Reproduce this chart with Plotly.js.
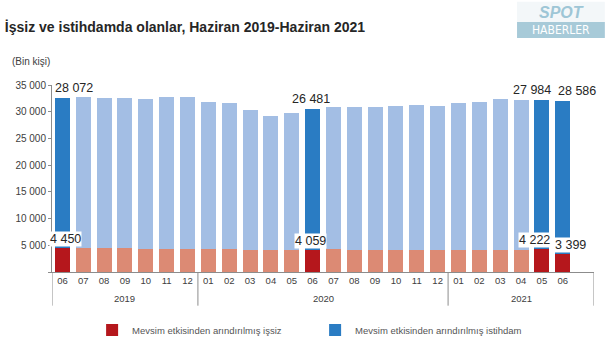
<!DOCTYPE html>
<html>
<head>
<meta charset="utf-8">
<script src="https://cdn.plot.ly/plotly-3.0.1.min.js"></script>
<style>html,body{margin:0;padding:0;background:#fff;}#chart{width:605px;height:363px;}</style>
</head>
<body>
<div id="chart"></div>
<script>
// ---- data ----
var years = ['2019','2019','2019','2019','2019','2019','2019',
  '2020','2020','2020','2020','2020','2020','2020','2020','2020','2020','2020','2020',
  '2021','2021','2021','2021','2021','2021'];
var months = ['06','07','08','09','10','11','12',
  '01','02','03','04','05','06','07','08','09','10','11','12',
  '01','02','03','04','05','06'];
// unemployed (thousand persons), seasonally adjusted
var unemployed = [4450, 4480, 4470, 4440, 4330, 4320, 4330,
  4250, 4220, 4200, 4180, 4170, 4059, 4350, 4200, 4180, 4170, 4180, 4170,
  4150, 4180, 4200, 4150, 4222, 3399];
// employed (thousand persons), seasonally adjusted
var employed = [28072, 28350, 28050, 28080, 28000, 28450, 28440,
  27650, 27490, 26140, 24970, 25540, 26481, 26440, 26715, 26670, 26870, 26985, 26870,
  27450, 27610, 28210, 27950, 27984, 28586];
// highlighted months (labelled in the chart)
var highlight = [0, 12, 23, 24];

// ---- derived ----
var cats = months.map(function (m, i) { return years[i] + '-' + m; });

// ---- styles ----
var FONT = 'Liberation Sans, Arial, sans-serif';
var cEmpDark = '#2A7CC3', cEmpLight = '#A3BEE4';
var cUnDark = '#B5171C', cUnLight = '#DC8A74';
function colors(dark, light) {
  return months.map(function (m, i) { return highlight.indexOf(i) >= 0 ? dark : light; });
}
function fmt(v) { return String(v).replace(/\B(?=(\d{3})+(?!\d))/g, ' '); }

var traces = [
  { type: 'bar', name: 'Mevsim etkisinden arındırılmış işsiz', x: cats, y: unemployed,
    marker: { color: colors(cUnDark, cUnLight) }, hoverinfo: 'y' },
  { type: 'bar', name: 'Mevsim etkisinden arındırılmış istihdam', x: cats, y: employed,
    marker: { color: colors(cEmpDark, cEmpLight) }, hoverinfo: 'y' }
];

// label offsets (px) to reproduce manual placement
var empShift = { 0: 12, 12: -2, 23: -10, 24: 14 };
var unShift = { 0: 3, 12: -2, 23: -7, 24: 8 };

var annotations = [];
highlight.forEach(function (i) {
  annotations.push({ x: cats[i], y: unemployed[i] + employed[i], xref: 'x', yref: 'y',
    text: fmt(employed[i]), showarrow: false, yanchor: 'bottom', yshift: 1, xshift: empShift[i],
    font: { family: FONT, size: 12.5, color: '#262626' } });
  annotations.push({ x: cats[i], y: unemployed[i], xref: 'x', yref: 'y',
    text: fmt(unemployed[i]), showarrow: false, yanchor: 'bottom', yshift: 1, xshift: unShift[i],
    bgcolor: '#ffffff', borderpad: 0,
    font: { family: FONT, size: 12.5, color: '#262626' } });
});

// year group labels and dividers
var shapes = [];
var groupStart = 0;
for (var i = 1; i <= years.length; i++) {
  if (i === years.length || years[i] !== years[groupStart]) {
    var endPos = (i === years.length) ? i + 0.5 : i - 0.5; // last group extends to axis end
    annotations.push({ x: (groupStart - 0.5 + endPos) / 2, y: -0.14, xref: 'x', yref: 'paper',
      text: years[groupStart], showarrow: false, yanchor: 'middle',
      font: { family: FONT, size: 9.5, color: '#404040' } });
    shapes.push({ type: 'line', xref: 'x', yref: 'paper', x0: groupStart - 0.5, x1: groupStart - 0.5,
      y0: 0, y1: -0.18, line: { color: '#8c8c8c', width: 1 } });
    if (i === years.length) {
      shapes.push({ type: 'line', xref: 'x', yref: 'paper', x0: endPos, x1: endPos,
        y0: 0, y1: -0.18, line: { color: '#8c8c8c', width: 1 } });
    }
    groupStart = i;
  }
}

annotations.push({ x: -0.078, y: 1.125, xref: 'paper', yref: 'paper', xanchor: 'left', yanchor: 'middle',
  text: '(Bin kişi)', showarrow: false, font: { family: FONT, size: 10, color: '#404040' } });
// watermark logo
annotations.push({ x: 0.94, y: 1.337, xref: 'paper', yref: 'paper', xanchor: 'center', yanchor: 'bottom',
  text: '<b><i>SPOT</i></b>', showarrow: false, borderpad: 0,
  font: { family: FONT, size: 16, color: '#9EC6D6' } });
annotations.push({ x: 0.94, y: 1.337, xref: 'paper', yref: 'paper', xanchor: 'center', yanchor: 'top',
  text: 'HABERLER', showarrow: false, borderpad: 0,
  font: { family: 'DejaVu Sans Condensed, Liberation Sans Narrow, sans-serif', size: 12, color: '#ffffff' } });

shapes.push({ type: 'rect', xref: 'paper', yref: 'paper', x0: 0.858, x1: 1.02, y0: 1.252, y1: 1.445,
  fillcolor: '#F3F7F9', line: { width: 0 }, layer: 'below' });
shapes.push({ type: 'rect', xref: 'paper', yref: 'paper', x0: 0.858, x1: 1.02, y0: 1.252, y1: 1.337,
  fillcolor: '#A7CAD8', line: { width: 0 }, layer: 'below' });

var layout = {
  width: 605, height: 363,
  margin: { l: 52, r: 11, t: 85, b: 91, pad: 0 },
  paper_bgcolor: '#ffffff', plot_bgcolor: '#ffffff',
  barmode: 'stack', bargap: 0.28,
  font: { family: FONT, color: '#404040' },
  title: { text: '<b>İşsiz ve istihdamda olanlar, Haziran 2019-Haziran 2021</b>',
    x: 0.008, xref: 'container', xanchor: 'left', y: 0.925, yref: 'container', yanchor: 'middle',
    font: { family: FONT, size: 14, color: '#262626' } },
  xaxis: { type: 'category', range: [-0.5, 25.5], showline: true, linecolor: '#8c8c8c', linewidth: 1,
    tickvals: cats, ticktext: months, ticks: '', showgrid: false,
    tickfont: { size: 9.5, color: '#404040' } },
  yaxis: { range: [0, 35000], tickvals: [0, 5000, 10000, 15000, 20000, 25000, 30000, 35000],
    ticktext: ['', '5 000', '10 000', '15 000', '20 000', '25 000', '30 000', '35 000'],
    showline: true, linecolor: '#8c8c8c', ticks: 'outside', ticklen: 3, tickcolor: '#8c8c8c',
    showgrid: false, zeroline: false, tickfont: { size: 10, color: '#404040' } },
  showlegend: true,
  legend: { orientation: 'h', x: 0.074, y: -0.31, xanchor: 'left', yanchor: 'middle',
    traceorder: 'normal', entrywidth: 178, entrywidthmode: 'pixels',
    font: { size: 9.5, color: '#555555' } },
  annotations: annotations,
  shapes: shapes
};

Plotly.newPlot('chart', traces, layout, { displayModeBar: false, staticPlot: true });
</script>
</body>
</html>
